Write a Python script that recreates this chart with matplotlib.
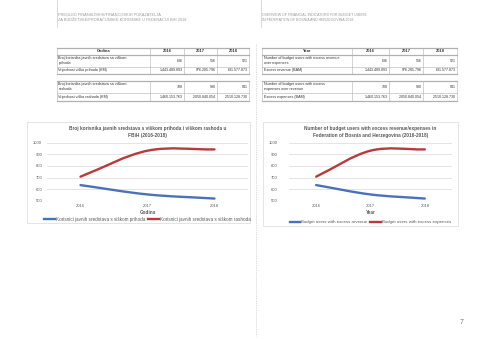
import numpy as np
import matplotlib
matplotlib.use("Agg")
import matplotlib.pyplot as plt
from matplotlib.path import Path
from matplotlib.patches import PathPatch
from matplotlib.lines import Line2D

plt.rcParams['font.family'] = ['Liberation Sans', 'DejaVu Sans']

# data
years = ['2016', '2017', '2018']
users_revenue = [636, 556, 521]
users_expenses = [708, 930, 941]
excess_revenue = ['1.443.489.893', '976.285.796', '631.577.873']
excess_expenses = ['1.460.153.763', '2.050.840.054', '2.510.128.730']

hdr_left = ['PREGLED FINANSIJSKIH/FINANCIJSKIH POKAZATELJA',
            'ZA BUDŽETSKE/PRORAČUNSKE KORISNIKE U FEDERACIJI BIH 2018']
hdr_right = ['OVERVIEW OF FINANCIAL INDICATORS FOR BUDGET USERS',
             'IN FEDERATION OF BOSNIA AND HERZEGOVINA 2018']

lbl_left = ['Godina',
            'Broj korisnika javnih sredstava sa viškom\nprihoda',
            'Vrijednost viška prihoda (KM)',
            'Broj korisnika javnih sredstava sa viškom\nrashoda',
            'Vrijednost viška rashoda (KM)']
lbl_right = ['Year',
             'Number of budget users with excess revenue\nover expenses',
             'Excess revenue (BAM)',
             'Number of budget users with excess\nexpenses over revenue',
             'Excess expenses (BAM)']

title_left = 'Broj korisnika javnih sredstava s viškom prihoda i viškom rashoda u\nFBiH (2016-2018)'
title_right = 'Number of budget users with excess revenue/expenses in\nFederation of Bosnia and Herzegovina (2016-2018)'
leg_left = ['Korisnici javnih sredstava s viškom prihoda',
            'Korisnici javnih sredstava s viškom rashoda']
leg_right = ['Budget users with excess revenue', 'Budget users with excess expenses']

BLUE = '#4a72b8'
RED = '#b83a3a'
W, H = 480, 339

fig = plt.figure(figsize=(4.8, 3.39), dpi=100)
fig.patch.set_facecolor('white')

# page overlay in pixel coordinates
pg = fig.add_axes([0, 0, 1, 1])
pg.set_xlim(0, W)
pg.set_ylim(H, 0)
pg.axis('off')

# header
for x0, lines, fs in ((58, hdr_left, 2.75), (262, hdr_right, 2.65)):
    pg.plot([x0 - 1.5, x0 - 1.5], [0, 27], color='#bbbbbb', lw=0.4)
    for i, t in enumerate(lines):
        pg.text(x0, 15.5 + i * 4.8, t, fontsize=fs, color='#9a9a9a', va='center')

# dashed divider
pg.plot([255.5, 255.5], [44, 336], color='#bbbbbb', lw=0.5, ls=(0, (1, 1.5)))

# page number
pg.text(462, 322, '7', fontsize=5, color='#777777', ha='center', va='center')

GRID = '#b0b0b0'
TXT = '#333333'


def draw_table(cols, labels, top1, vals1):
    tables = [(top1[0], [labels[0], labels[1], labels[2]], [years, [str(v) for v in vals1[0]], vals1[1]], True),
              (top1[1], [labels[3], labels[4]], [[str(v) for v in vals1[2]], vals1[3]], False)]
    for edges, lbls, rows, has_header in tables:
        x0, x1 = cols[0], cols[-1]
        for k, y in enumerate(edges):
            lw = 0.9 if (k == 0 or (has_header and k == 1) or k == len(edges) - 1) else 0.4
            pg.plot([x0, x1], [y, y], color=GRID, lw=lw)
        for x in cols:
            pg.plot([x, x], [edges[0], edges[-1]], color=GRID, lw=0.4)
        for r, (lb, vals) in enumerate(zip(lbls, rows)):
            yc = (edges[r] + edges[r + 1]) / 2
            if has_header and r == 0:
                pg.text((cols[0] + cols[1]) / 2, yc, lb, fontsize=2.9, weight='bold',
                        color=TXT, ha='center', va='center')
                for c, v in enumerate(vals):
                    pg.text((cols[c + 1] + cols[c + 2]) / 2, yc, v, fontsize=2.9,
                            weight='bold', color=TXT, ha='center', va='center')
            else:
                pg.text(cols[0] + 1.5, yc, lb, fontsize=2.7, color=TXT,
                        ha='left', va='center', linespacing=1.45)
                for c, v in enumerate(vals):
                    pg.text(cols[c + 2] - 1.5, yc, v, fontsize=2.6, color=TXT,
                            ha='right', va='center')


edges1 = [48, 55, 66.5, 73.5]
edges2 = [80.5, 93, 100.5]
draw_table([57, 150, 184, 217, 249], lbl_left, (edges1, edges2),
           (users_revenue, excess_revenue, users_expenses, excess_expenses))
draw_table([262, 352, 389, 423, 457], lbl_right, (edges1, edges2),
           (users_revenue, excess_revenue, users_expenses, excess_expenses))


def smooth(xs, ys):
    # Excel-like smoothed line built from cubic Bezier segments
    n = len(xs)
    m = []
    for i in range(n):
        if i == 0:
            m.append(ys[1] - ys[0])
        elif i == n - 1:
            m.append(ys[-1] - ys[-2])
        else:
            m.append((ys[i + 1] - ys[i - 1]) / 2)
    verts = [(xs[0], ys[0])]
    codes = [Path.MOVETO]
    for i in range(n - 1):
        verts += [(xs[i] + 1 / 3, ys[i] + m[i] / 3),
                  (xs[i + 1] - 1 / 3, ys[i + 1] - m[i + 1] / 3),
                  (xs[i + 1], ys[i + 1])]
        codes += [Path.CURVE4] * 3
    return Path(verts, codes)


def draw_chart(box, plot, title, xlabel, legend, ypad, legfs):
    bx0, by0, bx1, by1 = box
    pg.add_patch(plt.Rectangle((bx0, by0), bx1 - bx0, by1 - by0, fill=False,
                               edgecolor='#d9d9d9', lw=0.5))
    px0, py0, px1, py1 = plot
    ax = fig.add_axes([px0 / W, 1 - py1 / H, (px1 - px0) / W, (py1 - py0) / H])
    ax.set_facecolor('none')
    xs = np.arange(len(years))
    for vals, col in ((users_revenue, BLUE), (users_expenses, RED)):
        ax.add_patch(PathPatch(smooth(xs, vals), fill=False, edgecolor=col,
                               lw=1.7, capstyle='round'))
    ax.set_xlim(-0.5, len(years) - 0.5)
    ax.set_ylim(500, 1000)
    ax.set_yticks(range(500, 1001, 100))
    ax.set_xticks(xs)
    ax.set_xticklabels(years)
    ax.tick_params(labelsize=3, colors='#595959', length=0, pad=2.2)
    ax.tick_params(axis='y', pad=ypad)
    ax.grid(axis='y', color='#d9d9d9', lw=0.5)
    ax.set_axisbelow(True)
    for s in ax.spines.values():
        s.set_visible(False)
    ax.set_xlabel(xlabel, fontsize=3.3, weight='bold', color='#595959', labelpad=1.5)
    cx = (px0 + px1) / 2
    pg.text(cx, by0 + 10, title, fontsize=3.4, weight='bold',
            color='#595959', ha='center', va='center', linespacing=1.35)
    handles = [Line2D([], [], color=BLUE, lw=1.7), Line2D([], [], color=RED, lw=1.7)]
    pg.legend(handles, legend, loc='center', ncol=2, frameon=False,
              fontsize=legfs, labelcolor='#595959', handlelength=2.4,
              columnspacing=0.7, handletextpad=0.2,
              bbox_to_anchor=(cx / W, 1 - (by1 - 4) / H),
              bbox_transform=fig.transFigure)
    return ax


draw_chart((27, 122, 250, 223), (47, 142.5, 248, 201), title_left, 'Godina', leg_left, 3.5, 3.3)
leg1 = pg.get_legend()
draw_chart((263, 122, 458, 226), (289, 142.5, 452, 201), title_right, 'Year', leg_right, 8, 3.2)
pg.add_artist(leg1)

fig.savefig('out.png', dpi=100)
